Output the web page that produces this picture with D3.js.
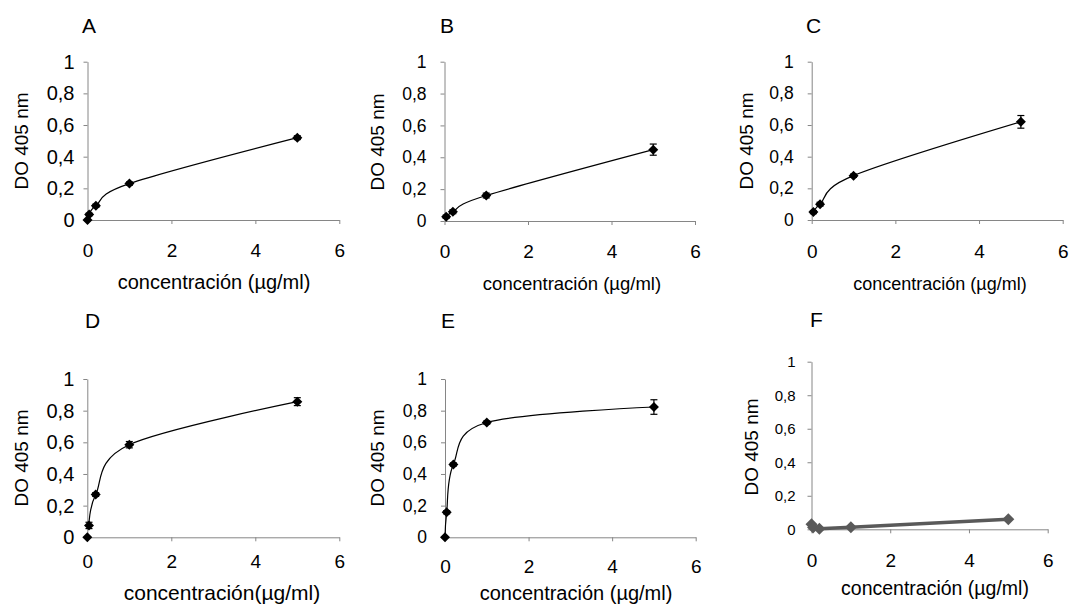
<!DOCTYPE html>
<html lang="es">
<head>
<meta charset="utf-8">
<title>DO 405 nm vs concentración</title>
<script src="https://d3js.org/d3.v7.min.js"></script>
<style>
  body { margin: 0; background: #fff; }
  text { font-family: "Liberation Sans", Arial, sans-serif; fill: #000; }
</style>
</head>
<body>
<script>
// datos
var concentraciones = [0, 0.04, 0.2, 1, 5];
var letras = ['A', 'B', 'C', 'D', 'E', 'F'];
var xTicks = [0, 2, 4, 6];
var yTicks = [0, 0.2, 0.4, 0.6, 0.8, 1];
var tituloY = 'DO 405 nm';
var titulosX = ['concentración (µg/ml)', 'concentración (µg/ml)', 'concentración (µg/ml)',
                'concentración(µg/ml)', 'concentración (µg/ml)', 'concentración (µg/ml)'];

var valoresA = [0, 0.035, 0.09, 0.23, 0.52];
var valoresB = [null, 0.027, 0.058, 0.16, 0.448];
var valoresC = [null, 0.05, 0.10, 0.28, 0.62];
var valoresD = [0, 0.075, 0.27, 0.585, 0.857];
var valoresE = [0, 0.158, 0.46, 0.725, 0.823];
var valoresF = [0.03, 0.01, 0.003, 0.012, 0.06];

var erroresA = [0.004, 0.008, 0.01, 0.01, 0.012];
var erroresB = [0, 0.01, 0.012, 0.015, 0.035];
var erroresC = [0, 0.01, 0.012, 0.01, 0.04];
var erroresD = [0, 0.02, 0.012, 0.02, 0.025];
var erroresE = [0, 0.01, 0.01, 0.01, 0.046];
var erroresF = [0, 0, 0, 0, 0];

// índice desde el que se dibuja la línea
var lineaDesde = [0, 1, 1, 1, 0, 0];

var series = [valoresA, valoresB, valoresC, valoresD, valoresE, valoresF];
var errores = [erroresA, erroresB, erroresC, erroresD, erroresE, erroresF];

// geometría de cada panel
var paneles = [
  {x0: 87.5, x1: 339.3, y0: 220, y1: 61.7, lx: 82, ly: 33, tx: 214, ty: 289, ts: 20, yx: 21, yy: 141, tb: 256.7, tf: 19, yf: 20, yp: 9},
  {x0: 444.5, x1: 695, y0: 221, y1: 61.7, lx: 440, ly: 33, tx: 572, ty: 290, ts: 18.5, yx: 377.5, yy: 142, tb: 258, tf: 19, yf: 17.5, yp: 14},
  {x0: 811.7, x1: 1062.7, y0: 220, y1: 61.7, lx: 806, ly: 33, tx: 940, ty: 290, ts: 18, yx: 746, yy: 141, tb: 258, tf: 19, yf: 17.5, yp: 14},
  {x0: 87.3, x1: 339.3, y0: 537.3, y1: 379, lx: 85, ly: 328, tx: 222, ty: 600, ts: 21, yx: 21, yy: 458, tb: 568, tf: 19, yf: 20, yp: 9},
  {x0: 445, x1: 695.7, y0: 537.3, y1: 379, lx: 441, ly: 328, tx: 576, ty: 600, ts: 20, yx: 377, yy: 458, tb: 573, tf: 19, yf: 17.5, yp: 14},
  {x0: 811.5, x1: 1047.7, y0: 529.3, y1: 361.7, lx: 810, ly: 327, tx: 935, ty: 595, ts: 19.5, yx: 751, yy: 447, tb: 567, tf: 19, yf: 15, yp: 12}
];

var svg = d3.select('body').append('svg')
    .attr('width', 1069)
    .attr('height', 611);

var coma = function(d) { return String(d).replace('.', ','); };

paneles.forEach(function(p, i) {
  var g = svg.append('g');
  var x = d3.scaleLinear().domain([0, 6]).range([p.x0, p.x1]);
  var y = d3.scaleLinear().domain([0, 1]).range([p.y0, p.y1]);

  var ejeX = g.append('g')
      .attr('transform', 'translate(0,' + p.y0 + ')')
      .call(d3.axisBottom(x).tickValues(xTicks).tickSize(4).tickSizeOuter(0)
        .tickFormat(d3.format('d')));
  ejeX.selectAll('text').attr('y', p.tb - p.y0).attr('dy', 0)
      .style('font-size', p.tf + 'px');

  var ejeY = g.append('g')
      .attr('transform', 'translate(' + p.x0 + ',0)')
      .call(d3.axisLeft(y).tickValues(yTicks).tickSize(4).tickSizeOuter(0)
        .tickPadding(p.yp).tickFormat(coma));
  ejeY.selectAll('text').style('font-size', p.yf + 'px');

  g.selectAll('.domain, .tick line').attr('stroke', '#868686');

  // letra del panel
  g.append('text').attr('x', p.lx).attr('y', p.ly)
      .style('font-size', '21px').text(letras[i]);

  // títulos
  g.append('text').attr('x', p.tx).attr('y', p.ty)
      .attr('text-anchor', 'middle').style('font-size', p.ts + 'px')
      .text(titulosX[i]);
  g.append('text')
      .attr('transform', 'translate(' + p.yx + ',' + p.yy + ') rotate(-90)')
      .attr('text-anchor', 'middle').attr('dy', '0.35em')
      .style('font-size', '19px').text(tituloY);

  var puntos = concentraciones.map(function(c, k) {
    return {x: c, y: series[i][k], e: errores[i][k], k: k};
  }).filter(function(d) { return d.y !== null; });

  var gris = (i === 5);
  var color = gris ? '#595959' : '#000';

  var linea = d3.line()
      .x(function(d) { return x(d.x); })
      .y(function(d) { return y(d.y); })
      .curve(gris ? d3.curveLinear : d3.curveCardinal.tension(0));

  g.append('path')
      .datum(puntos.filter(function(d) { return d.k >= lineaDesde[i]; }))
      .attr('fill', 'none')
      .attr('stroke', color)
      .attr('stroke-width', gris ? 3.5 : 1.2)
      .attr('d', linea);

  // barras de error
  var barras = g.selectAll('.err').data(puntos.filter(function(d) { return d.e > 0; }))
    .enter().append('g');
  barras.append('line')
      .attr('x1', function(d) { return x(d.x); }).attr('x2', function(d) { return x(d.x); })
      .attr('y1', function(d) { return y(d.y - d.e); }).attr('y2', function(d) { return y(d.y + d.e); })
      .attr('stroke', '#000').attr('stroke-width', 1.2);
  [-1, 1].forEach(function(s) {
    barras.append('line')
        .attr('x1', function(d) { return x(d.x) - 3.5; }).attr('x2', function(d) { return x(d.x) + 3.5; })
        .attr('y1', function(d) { return y(d.y + s * d.e); }).attr('y2', function(d) { return y(d.y + s * d.e); })
        .attr('stroke', '#000').attr('stroke-width', 1.2);
  });

  // marcadores rombo
  g.selectAll('.m').data(puntos).enter().append('path')
      .attr('d', d3.symbol().type(d3.symbolSquare).size(gris ? 72 : 50))
      .attr('transform', function(d) { return 'translate(' + x(d.x) + ',' + y(d.y) + ') rotate(45)'; })
      .attr('fill', color);
});
</script>
</body>
</html>
